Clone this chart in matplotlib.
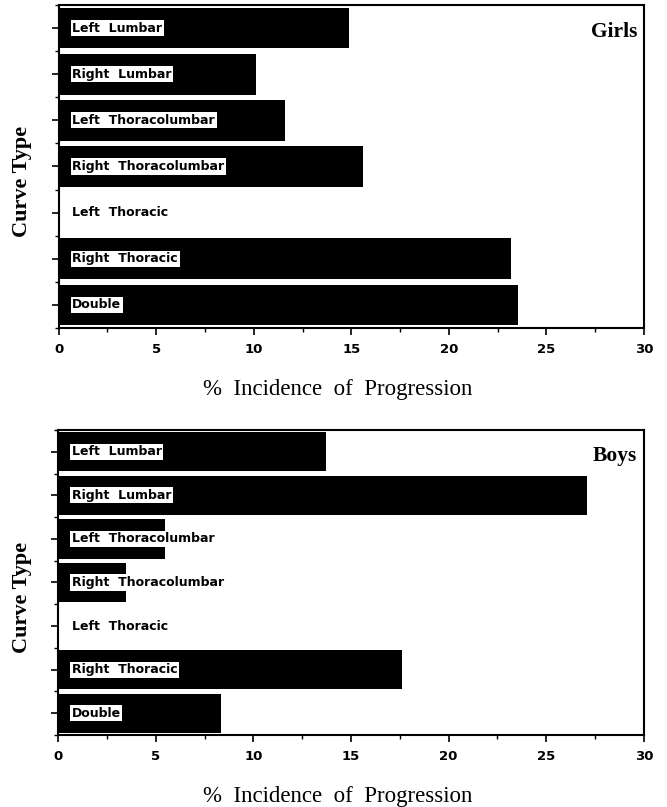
import numpy as np
import matplotlib
matplotlib.use('Agg')
import matplotlib.pyplot as plt
from matplotlib.ticker import MultipleLocator

# Curve types, top to bottom
curve_types = ["Left  Lumbar", "Right  Lumbar", "Left  Thoracolumbar",
               "Right  Thoracolumbar", "Left  Thoracic", "Right  Thoracic", "Double"]
girls_pct = [14.9, 10.1, 11.6, 15.6, 0.0, 23.2, 23.55]
boys_pct = [13.7, 27.1, 5.5, 3.5, 0.0, 17.6, 8.35]
x_ticks = [0, 5, 10, 15, 20, 25, 30]

SERIF = "Liberation Serif"
SANS = "DejaVu Sans"


def draw_panel(fig, ax, values, panel_name, bar_h):
    y = np.arange(len(curve_types))
    ax.barh(y, values, height=bar_h, color="black", edgecolor="none")
    for yi, lab in zip(y, curve_types):
        ax.text(0.7, yi, lab, ha="left", va="center", fontsize=9,
                fontweight="bold", family=SANS, color="black",
                bbox=dict(facecolor="white", edgecolor="none", pad=1.2))
    ax.set_xlim(0, 30)
    ax.set_ylim(len(curve_types) - 0.5, -0.5)
    ax.set_xticks(x_ticks)
    ax.set_xticklabels([str(t) for t in x_ticks], fontsize=9.5,
                       fontweight="bold", family=SANS)
    ax.xaxis.set_minor_locator(MultipleLocator(2.5))
    ax.set_yticks(y)
    ax.set_yticklabels([])
    ax.set_yticks(np.arange(-0.5, len(curve_types), 1.0), minor=True)
    ax.tick_params(axis="both", which="major", direction="out", length=5,
                   width=1.2, color="black", pad=6)
    ax.tick_params(axis="both", which="minor", direction="out", length=3,
                   width=1.0, color="black")
    for s in ax.spines.values():
        s.set_linewidth(1.5)
        s.set_color("black")
    # axis titles placed in figure coords (slightly off-centre, as in the original)
    bb = ax.get_position()
    fig.text(0.033, (bb.y0 + bb.y1) / 2 - 0.018, "Curve Type", rotation=90,
             ha="center", va="center", family=SERIF, fontweight="bold",
             fontsize=16)
    fig.text(0.507, bb.y0 - 0.076, "%  Incidence  of  Progression",
             ha="center", va="center", family=SERIF, fontsize=16.5)
    ax.text(0.988, 0.915, panel_name, transform=ax.transAxes, ha="right",
            va="center", family=SERIF, fontweight="bold", fontsize=15.5)


fig = plt.figure(figsize=(6.67, 8.07), dpi=100, facecolor="white")
ax1 = fig.add_axes([0.088, 0.5936, 0.8775, 0.4002])
ax2 = fig.add_axes([0.087, 0.0892, 0.8785, 0.378])

draw_panel(fig, ax1, girls_pct, "Girls", 0.88)
draw_panel(fig, ax2, boys_pct, "Boys", 0.9)

fig.savefig("out.png", dpi=100, facecolor="white")
